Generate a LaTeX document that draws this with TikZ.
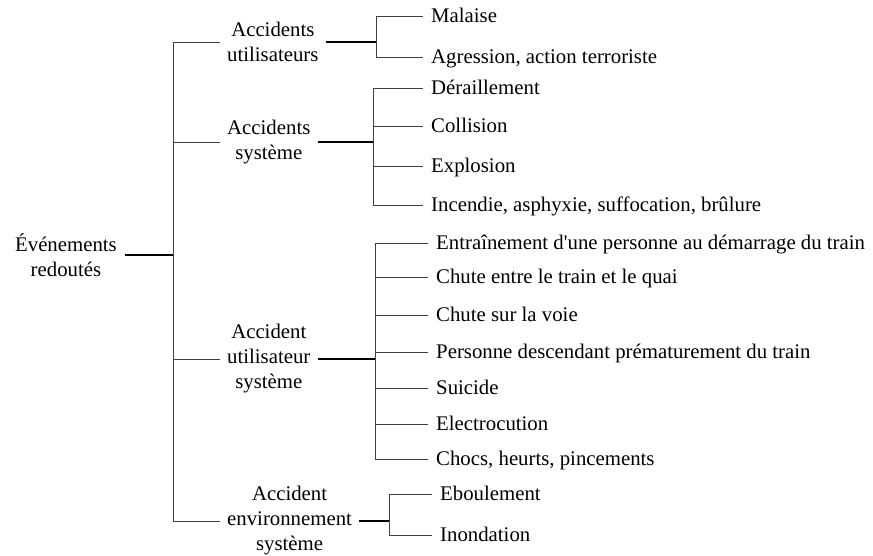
\documentclass[tikz,border=0pt]{standalone}
\usepackage{fontspec}
\setmainfont{Liberation Serif}
\usetikzlibrary{positioning}
\newcommand\diagfont{\fontsize{20.8}{25}\selectfont}
\tikzset{
  evt/.style={anchor=east,align=center,inner xsep=8pt,font=\diagfont},
  grp/.style={anchor=west,align=center,inner xsep=7pt,font=\diagfont},
  item/.style={anchor=west,inner xsep=8pt,text height=17pt,text depth=3.4pt,font=\diagfont},
  br/.style={draw=black!75,line width=0.9pt},
  stem/.style={draw=black,line width=1.5pt},
}
\begin{document}
\begin{tikzpicture}[x=1pt,y=-1pt]
  \useasboundingbox (0,0) rectangle (873,555);
  \node[evt] (root) at (125,255) {Événements\\redoutés};
  \coordinate (j0) at (173,255);
  \node[grp] (usr) at (220,42) {Accidents\\utilisateurs};
  \node[grp] (sys) at (220,142) {Accidents\\système};
  \node[grp] (ussys) at (220,359) {Accident\\utilisateur\\système};
  \node[grp] (env) at (220,521) {Accident\\environnement\\système};
  \coordinate (j1) at (376,42); \coordinate (j2) at (373,142);
  \coordinate (j3) at (375,359); \coordinate (j4) at (389,521);
  % user accidents
  \node[item] (mal) at (423,16) {Malaise};
  \node[item] (agr) at (423,57) {Agression, action terroriste};
  % system accidents
  \node[item] (der) at (423,88) {Déraillement};
  \node[item] (col) at (423,126) {Collision};
  \node[item] (exp) at (423,166) {Explosion};
  \node[item] (inc) at (423,205) {Incendie, asphyxie, suffocation, brûlure};
  % user/system accidents
  \node[item] (ent) at (428,243) {Entraînement d\textquotesingle une personne au démarrage du train};
  \node[item] (chq) at (428,277) {Chute entre le train et le quai};
  \node[item] (chv) at (428,315) {Chute sur la voie};
  \node[item] (pers) at (428,352) {Personne descendant prématurement du train};
  \node[item] (sui) at (428,388) {Suicide};
  \node[item] (ele) at (428,424) {Electrocution};
  \node[item] (cho) at (428,459) {Chocs, heurts, pincements};
  % environment
  \node[item] (ebo) at (432,494) {Eboulement};
  \node[item] (ino) at (432,535) {Inondation};
  \draw[stem] (root.east) -- (j0);
  \foreach \n in {usr,sys,ussys,env} \draw[br] (j0) |- (\n.west);
  \draw[stem] (usr.east) -- (j1); \draw[stem] (sys.east) -- (j2);
  \draw[stem] (ussys.east) -- (j3); \draw[stem] (env.east) -- (j4);
  \foreach \n in {mal,agr} \draw[br] (j1) |- (\n.west);
  \foreach \n in {der,col,exp,inc} \draw[br] (j2) |- (\n.west);
  \foreach \n in {ent,chq,chv,pers,sui,ele,cho} \draw[br] (j3) |- (\n.west);
  \foreach \n in {ebo,ino} \draw[br] (j4) |- (\n.west);
\end{tikzpicture}
\end{document}
